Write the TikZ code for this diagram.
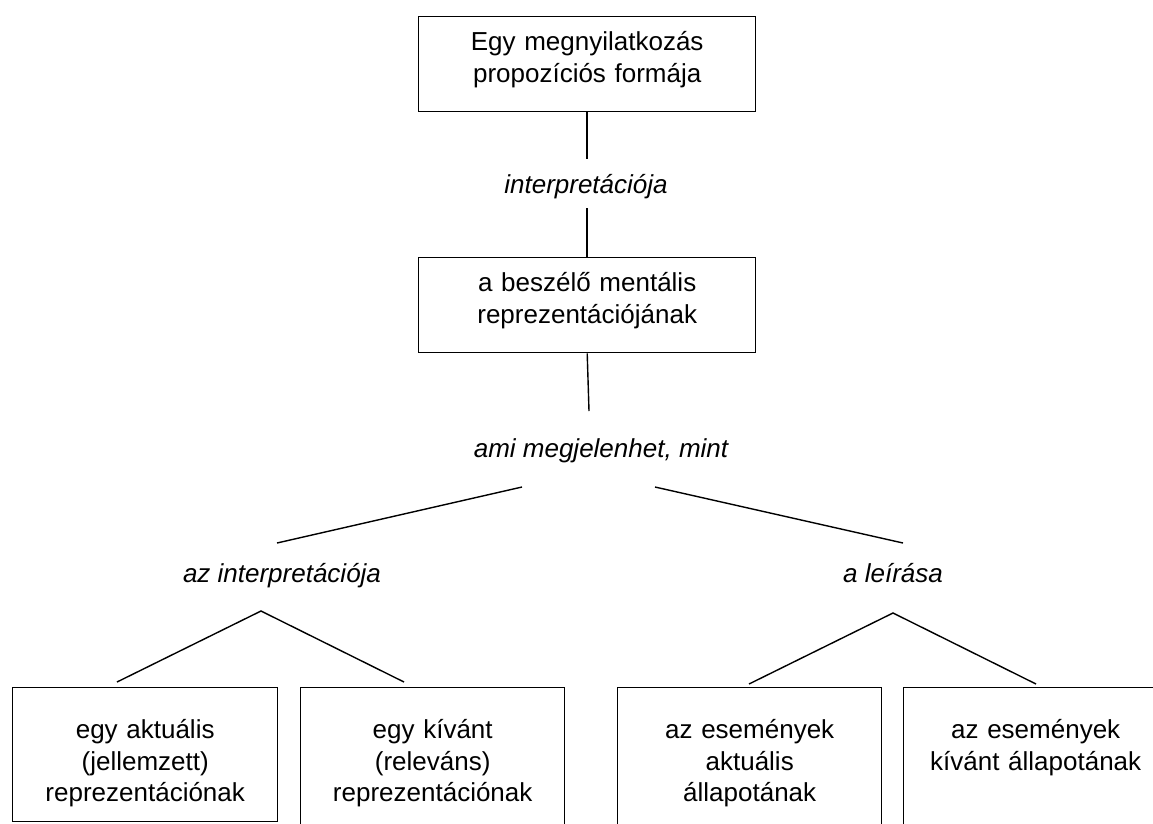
\documentclass[tikz,border=0pt]{standalone}
\usepackage{fontspec}
\setmainfont{Liberation Sans}
\begin{document}
\begin{tikzpicture}[x=1pt,y=-1pt,
  line width=1.4pt,
  box/.style={draw, font=\fontsize{26}{31.3}\selectfont, inner sep=0pt,
    text width=#1, align=center, anchor=north west},
  lbl/.style={font=\fontsize{26}{31.3}\selectfont\itshape, inner sep=0pt, anchor=base},
]
\useasboundingbox (0,0) rectangle (1153,823);
\clip (0,0) rectangle (1153,823);

% boxes
\node[box=337pt, text height=34pt, text depth=61pt] (top) at (418,16)
  {Egy megnyilatkozás\\propozíciós formája};
\node[box=337pt, text height=34pt, text depth=61pt] (mid) at (418,257)
  {a beszélő mentális\\reprezentációjának};
\node[box=265pt, text height=51pt, text depth=83pt] (n1) at (12,687)
  {egy aktuális\\(jellemzett)\\reprezentációnak};
\node[box=264pt, text height=51pt, text depth=120pt] (n2) at (300,687)
  {egy kívánt\\(releváns)\\reprezentációnak};
\node[box=264pt, text height=51pt, text depth=120pt] (n3) at (617,687)
  {az események\\aktuális\\állapotának};
\node[box=264pt, text height=51pt, text depth=120pt] (n4) at (903,687)
  {az események\\kívánt állapotának};

% labels
\node[lbl] (l1) at (586,193) {interpretációja};
\node[lbl] (l2) at (601,457) {ami megjelenhet, mint};
\node[lbl] (l3) at (282,582) {az interpretációja};
\node[lbl] (l4) at (893,582) {a leírása};

% free ends of connectors
\coordinate (a1) at (587,159);
\coordinate (a2) at (587,208);
\coordinate (a3) at (589,411);
\coordinate (s1) at (522,487);
\coordinate (e1) at (277,543);
\coordinate (s2) at (655,487);
\coordinate (e2) at (903,543);
\coordinate (p1) at (261,611);
\coordinate (f1) at (117,682);
\coordinate (f2) at (404,682);
\coordinate (p2) at (893,613);
\coordinate (f3) at (749,684);
\coordinate (f4) at (1036,684);

% connectors
\draw (a1 |- top.south) -- (a1);
\draw (a2) -- (a2 |- mid.north);
\draw (mid.south) -- (a3);
\draw (s1) -- (e1);
\draw (s2) -- (e2);
\draw (f1) -- (p1) -- (f2);
\draw (f3) -- (p2) -- (f4);
\end{tikzpicture}
\end{document}
